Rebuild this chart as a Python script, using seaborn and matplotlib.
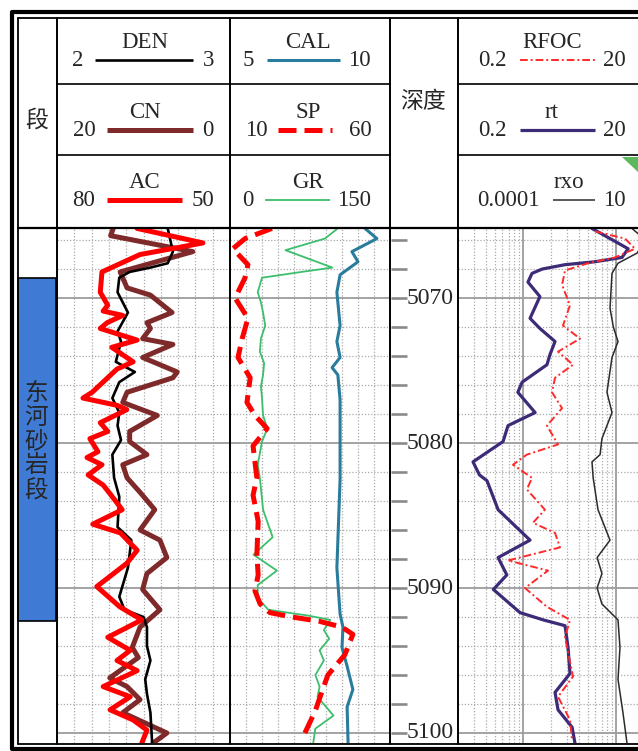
"""
Well log plot - 东河砂岩段 (depth 5065-5100 m)
"""

import numpy as np
import matplotlib
matplotlib.use("Agg")
import matplotlib.pyplot as plt
from matplotlib.patches import Polygon
import seaborn as sns

W, H = 638, 751

sns.set_style("white")
plt.rcParams['font.family'] = ['Liberation Serif', 'Noto Sans CJK SC', 'DejaVu Sans']

# ==================== DATA ====================
DEPTH_TOP, DEPTH_BOT = 5065.17, 5100.69
ZONE_TOP, ZONE_BOT = 5068.6, 5092.3
ZONE_NAME = "东河砂岩段"
DEPTH_LABELS = [5070, 5080, 5090, 5100]

# track 2: DEN (2-3), CN (20-0), AC (80-50)
den_depth = [5065.2, 5066.8, 5067.6, 5067.9, 5068.2, 5068.6, 5069.6, 5071.0, 5072.3, 5073.0,
             5074.4, 5075.1, 5075.8, 5076.9, 5077.9, 5078.8, 5079.8, 5080.8, 5082.4, 5083.7,
             5085.8, 5086.7, 5088.6, 5090.6, 5091.5, 5092.0, 5092.7, 5094.0, 5095.0, 5096.3,
             5097.3, 5098.6, 5100.7]
den = [2.64, 2.67, 2.64, 2.54, 2.42, 2.36, 2.35, 2.41, 2.35, 2.37,
       2.34, 2.45, 2.36, 2.32, 2.36, 2.35, 2.37, 2.32, 2.33, 2.36,
       2.35, 2.43, 2.41, 2.36, 2.39, 2.50, 2.52, 2.52, 2.54, 2.51,
       2.52, 2.54, 2.55]

cn_depth = [5065.2, 5065.7, 5066.8, 5068.2, 5069.3, 5069.8, 5071.0, 5071.7, 5072.1, 5072.8,
            5073.2, 5074.1, 5075.1, 5075.5, 5076.5, 5077.2, 5078.1, 5079.2, 5079.9, 5080.8,
            5081.5, 5082.4, 5083.4, 5084.6, 5086.0, 5086.7, 5087.9, 5089.0, 5090.1, 5091.5,
            5092.7, 5094.1, 5094.8, 5096.2, 5096.8, 5097.7, 5098.6, 5100.0, 5100.7]
cn = [13.5, 13.8, 4.3, 12.7, 11.9, 9.2, 6.7, 9.6, 9.2, 10.1,
      6.6, 10.1, 6.1, 6.6, 11.9, 12.4, 8.4, 11.6, 11.6, 9.6,
      12.4, 11.9, 10.4, 8.7, 10.4, 8.1, 7.3, 9.6, 10.1, 8.1,
      10.4, 11.3, 10.6, 13.9, 11.9, 10.4, 12.4, 7.3, 8.9]

ac_depth = [5065.2, 5066.2, 5067.0, 5068.2, 5069.6, 5070.5, 5070.9, 5071.2, 5071.7, 5072.1,
            5072.9, 5073.4, 5074.4, 5074.9, 5076.5, 5076.9, 5077.4, 5077.7, 5078.6, 5079.2,
            5079.7, 5080.6, 5081.0, 5081.5, 5082.2, 5082.9, 5083.5, 5084.6, 5085.6, 5086.2,
            5087.4, 5088.3, 5089.9, 5091.3, 5092.2, 5093.4, 5094.3, 5095.0, 5095.7, 5096.8,
            5097.5, 5098.4, 5099.1, 5099.8, 5100.7]
ac = [66.1, 54.7, 65.6, 72.2, 72.5, 71.2, 72.0, 68.6, 71.3, 72.5,
      66.1, 70.5, 66.8, 69.6, 73.9, 75.5, 69.6, 67.9, 72.5, 71.2,
      74.3, 72.9, 74.8, 72.2, 74.6, 72.0, 70.8, 68.7, 73.8, 69.0,
      66.1, 67.9, 73.1, 69.1, 65.3, 71.2, 67.3, 69.6, 66.1, 72.0,
      67.3, 70.8, 66.8, 64.4, 65.3]

# track 3: CAL (5-10), SP (10-60), GR (0-150)
cal_depth = [5065.2, 5065.9, 5066.8, 5067.5, 5068.4, 5069.6, 5071.9, 5073.0, 5074.1, 5074.8,
             5075.3, 5077.0, 5082.5, 5088.6, 5091.8, 5092.7, 5094.1, 5095.4, 5097.0, 5098.2, 5100.7]
cal = [9.22, 9.59, 8.81, 9.0, 8.44, 8.34, 8.44, 8.34, 8.44, 8.19,
       8.37, 8.44, 8.44, 8.34, 8.44, 8.53, 8.5, 8.66, 8.84, 8.66, 8.69]

sp_depth = [5065.2, 5065.9, 5066.6, 5067.7, 5068.6, 5070.0, 5071.4, 5072.8, 5074.1, 5075.5,
            5077.2, 5078.1, 5079.0, 5080.2, 5082.4, 5083.6, 5085.4, 5087.7, 5089.1, 5090.2,
            5091.1, 5091.7, 5092.0, 5092.3, 5092.7, 5093.2, 5094.6, 5096.0, 5097.1, 5098.5,
            5100.0]
sp = [23.1, 14.7, 10.9, 15.6, 14.7, 11.6, 15.6, 13.8, 12.5, 16.3,
      15.3, 17.8, 21.6, 17.2, 18.4, 17.2, 18.8, 18.4, 18.8, 17.8,
      19.4, 22.5, 29.4, 38.0, 45.0, 48.4, 45.9, 40.6, 38.8, 36.6,
      33.4]

gr_depth = [5065.2, 5065.9, 5066.7, 5067.9, 5068.2, 5068.6, 5069.6, 5070.3, 5071.0, 5071.9,
            5072.8, 5073.7, 5074.5, 5075.3, 5076.1, 5076.9, 5078.1, 5079.0, 5079.9, 5081.5,
            5082.4, 5084.6, 5086.5, 5087.7, 5088.8, 5089.8, 5090.7, 5091.5, 5091.9, 5092.2,
            5092.9, 5093.5, 5094.3, 5095.0, 5096.0, 5096.8, 5097.5, 5098.8, 5099.7, 5100.7]
gr = [101, 89, 52, 96, 67, 30, 26, 29, 31, 33,
      29, 28, 32, 31, 29, 30, 31, 35, 30, 26,
      28, 31, 40, 22, 44, 26, 26, 36, 73, 94,
      88, 93, 84, 88, 80, 84, 82, 97, 80, 78]

# track 5: RFOC, rt (0.2-20, log), rxo (0.0001-10, log)
rt_depth = [5065.2, 5066.6, 5067.2, 5067.5, 5067.7, 5068.0, 5068.3, 5068.9, 5069.9, 5071.4,
            5072.1, 5073.0, 5073.9, 5074.6, 5075.8, 5076.5, 5077.9, 5078.8, 5079.9, 5080.6,
            5081.3, 5082.2, 5082.6, 5084.6, 5086.7, 5087.9, 5089.1, 5090.1, 5091.7, 5092.2,
            5092.6, 5094.1, 5095.9, 5097.2, 5098.4, 5099.6, 5100.7]
rt = [5.52, 13.5, 11.6, 5.9, 2.83, 1.61, 1.25, 1.13, 1.52, 1.19,
      1.52, 2.21, 1.95, 1.81, 0.98, 0.88, 1.35, 0.69, 0.61, 0.42,
      0.29, 0.34, 0.41, 0.54, 1.19, 0.54, 0.67, 0.48, 0.93, 1.65,
      2.83, 3.05, 3.2, 2.21, 2.38, 3.37, 3.62]

rfoc_depth = [5065.4, 5065.9, 5066.6, 5067.2, 5067.6, 5068.1, 5069.1, 5070.5, 5071.9, 5072.8,
              5073.7, 5074.6, 5075.5, 5076.5, 5077.6, 5078.8, 5080.1, 5080.8, 5081.5, 5082.4,
              5083.2, 5084.6, 5085.5, 5086.2, 5087.2, 5088.1, 5088.8, 5090.0, 5091.3, 5092.2,
              5093.4, 5096.1, 5097.5, 5099.1, 5100.5]
rfoc = [5.94, 12.5, 16.0, 9.75, 5.0, 2.83, 2.63, 3.2, 2.69, 4.1,
        2.38, 3.45, 2.21, 2.05, 2.63, 1.81, 2.38, 1.10, 0.78, 1.25,
        1.10, 1.72, 1.28, 2.21, 2.5, 0.69, 1.86, 1.05, 1.81, 3.2,
        2.83, 3.45, 2.38, 3.2, 3.37]

rxo_depth = [5065.2, 5066.0, 5066.9, 5067.6, 5068.3, 5070.7, 5072.0, 5073.0, 5074.1, 5076.5,
             5077.9, 5079.7, 5080.8, 5081.3, 5082.4, 5084.6, 5086.7, 5087.9, 5089.0, 5090.0,
             5091.1, 5092.2, 5094.1, 5096.3, 5098.6, 5100.7]
rxo = [4.75, 11.0, 6.5, 2.0, 1.38, 1.22, 1.5, 2.0, 1.38, 1.01,
       1.38, 0.74, 0.66, 0.40, 0.43, 0.58, 1.22, 0.55, 0.74, 0.55,
       0.74, 2.0, 2.26, 2.0, 2.72, 3.49]

# ==================== STYLES ====================
STY = {
    'DEN':  dict(color='black', lw=1.9),
    'CN':   dict(color='#7f2a2a', lw=3.6),
    'AC':   dict(color='#ff0000', lw=3.6),
    'CAL':  dict(color='#2a7c9c', lw=2.2),
    'SP':   dict(color='#ff0000', lw=3.6, ls=(0, (3.6, 1.6))),
    'GR':   dict(color='#3cbf6c', lw=1.3),
    'RFOC': dict(color='#ff2a2a', lw=1.4, ls=(0, (4, 1.5, 1, 1.5))),
    'rt':   dict(color='#3d2b78', lw=2.3),
    'rxo':  dict(color='#2b2b2b', lw=1.1),
}
DOT = dict(color='#aaaaaa', lw=0.9, ls=(0, (1, 1.5)), zorder=0)
SOLID = dict(color='#9c9c9c', lw=1.3, zorder=0)

Y_TOP, Y_BOT = 228, 743  # pixel rows of the data area
X_COLS = [17, 57, 230, 390, 458, 644]

fig = plt.figure(figsize=(W / 100, H / 100), dpi=100)
fig.patch.set_facecolor('white')


def px_axes(x0, x1):
    ax = fig.add_axes([x0 / W, 1 - Y_BOT / H, (x1 - x0) / W, (Y_BOT - Y_TOP) / H])
    ax.set_axis_off()
    return ax


def grid_axes(x0, x1, log=False):
    ax = px_axes(x0, x1)
    if log:
        ax.set_xscale('log')
        ax.set_xlim(0.2, 20)
        for dec in [0.1, 1, 10]:
            for k in range(2, 10):
                v = k * dec
                if 0.2 < v < 20:
                    ax.axvline(v, **DOT)
        for v in [1, 10]:
            ax.axvline(v, **SOLID)
    else:
        ax.set_xlim(0, 10)
        for v in range(1, 10):
            ax.axvline(v, **DOT)
    for d in range(5066, 5101, 2):
        ax.axhline(d, **(SOLID if d % 10 == 0 else DOT))
    ax.set_ylim(DEPTH_BOT, DEPTH_TOP)
    return ax


def curve(x0, x1, vals, depths, lo, hi, name, log=False):
    ax = px_axes(x0, x1)
    if log:
        ax.set_xscale('log')
    sns.lineplot(x=vals, y=depths, sort=False, estimator=None, ax=ax,
                 solid_joinstyle='round', **STY[name])
    ax.set_xlim(lo, hi)
    ax.set_ylim(DEPTH_BOT, DEPTH_TOP)
    ax.set_axis_off()
    return ax


# ---- track 1: zone
ax1 = px_axes(17, 57)
ax1.set_xlim(0, 1)
ax1.set_ylim(DEPTH_BOT, DEPTH_TOP)
ax1.fill_betweenx([ZONE_TOP, ZONE_BOT], 0.02, 0.98, facecolor='#3f7bd4',
                  edgecolor='black', lw=1.2)
for i, ch in enumerate(ZONE_NAME):
    ax1.text(0.48, 5079.9 + (i - 2) * 1.66, ch, ha='center', va='center',
             fontsize=17, family=['Noto Sans CJK SC'])

# ---- track 2
grid_axes(57, 230)
curve(57, 230, cn, cn_depth, 20, 0, 'CN')
curve(57, 230, den, den_depth, 2, 3, 'DEN')
curve(57, 230, ac, ac_depth, 80, 50, 'AC')

# ---- track 3
grid_axes(230, 390)
curve(230, 390, gr, gr_depth, 0, 150, 'GR')
curve(230, 390, cal, cal_depth, 5, 10, 'CAL')
curve(230, 390, sp, sp_depth, 10, 60, 'SP')

# ---- depth track
axd = px_axes(390, 458)
axd.set_xlim(0, 1)
axd.set_ylim(DEPTH_BOT, DEPTH_TOP)
axd.hlines(np.arange(5066, 5101, 2), 0.02, 0.25, color='#8a8a8a', lw=1.9)
for d in DEPTH_LABELS:
    axd.text(0.25, d, str(d), ha='left', va='center', fontsize=17)

# ---- track 5
grid_axes(458, 644, log=True)
curve(458, 644, rxo, rxo_depth, 1e-4, 10, 'rxo', log=True)
curve(458, 644, rt, rt_depth, 0.2, 20, 'rt', log=True)
curve(458, 644, rfoc, rfoc_depth, 0.2, 20, 'RFOC', log=True)

# ==================== HEADER + FRAME (pixel overlay) ====================
ov = fig.add_axes([0, 0, 1, 1])
ov.set_xlim(0, W)
ov.set_ylim(H, 0)
ov.set_axis_off()

# double outer frame
ov.plot([11.5, 11.5], [11.5, 748.5], color='black', lw=3, solid_capstyle='butt')
ov.plot([11.5, W + 5], [11.5, 11.5], color='black', lw=3)
ov.plot([11.5, W + 5], [748.5, 748.5], color='black', lw=3)
ov.plot([17.5, 17.5], [17.5, 743.5], color='black', lw=1.3)
ov.plot([17.5, W + 5], [17.5, 17.5], color='black', lw=1.3)
ov.plot([17.5, W + 5], [743.5, 743.5], color='black', lw=1.3)

# column and row dividers
for x in X_COLS[1:5]:
    ov.plot([x, x], [17.5, 743.5], color='black', lw=1.4)
ov.plot([17.5, W + 5], [Y_TOP, Y_TOP], color='black', lw=1.6)
for y in [84, 155]:
    ov.plot([57, 390], [y, y], color='black', lw=1.2)
    ov.plot([458, W + 5], [y, y], color='black', lw=1.2)

FS = 16.5
ov.text(37, 120, "段", ha='center', va='center', fontsize=16.5, family=['Noto Sans CJK SC'])
ov.text(423, 101, "深度", ha='center', va='center', fontsize=16.5, family=['Noto Sans CJK SC'])

# header legend entries: name, name x, y of line, line span, left label, right label
HEADER = [
    ('DEN', 145, 60, (95, 193), ('2', 78), ('3', 209)),
    ('CN', 145, 130, (107, 193), ('20', 84), ('0', 208)),
    ('AC', 145, 200, (107, 182), ('80', 84), ('50', 203)),
    ('CAL', 308, 60, (267, 340), ('5', 248), ('10', 359)),
    ('SP', 308, 130, (278, 332), ('10', 256), ('60', 360)),
    ('GR', 308, 200, (265, 330), ('0', 248), ('150', 354)),
    ('RFOC', 552, 60, (520, 595), ('0.2', 492), ('20', 614)),
    ('rt', 552, 130, (520, 595), ('0.2', 492), ('20', 614)),
    ('rxo', 569, 200, (553, 595), ('0.0001', 508), ('10', 614)),
]
for name, nx, ly, (lx0, lx1), (lt, ltx), (rtx_s, rtx) in HEADER:
    ov.text(nx, ly - 17, name, ha='center', va='center', fontsize=FS)
    ov.plot([lx0, lx1], [ly, ly], solid_capstyle='butt', **STY[name])
    ov.text(ltx, ly + 1, lt, ha='center', va='center', fontsize=FS)
    ov.text(rtx, ly + 1, rtx_s, ha='center', va='center', fontsize=FS)

ov.add_patch(Polygon([[622, 157], [W, 157], [W, 172]], closed=True,
                     facecolor='#5cb85c', edgecolor='none'))

plt.savefig("out.png", dpi=100)
plt.close()
